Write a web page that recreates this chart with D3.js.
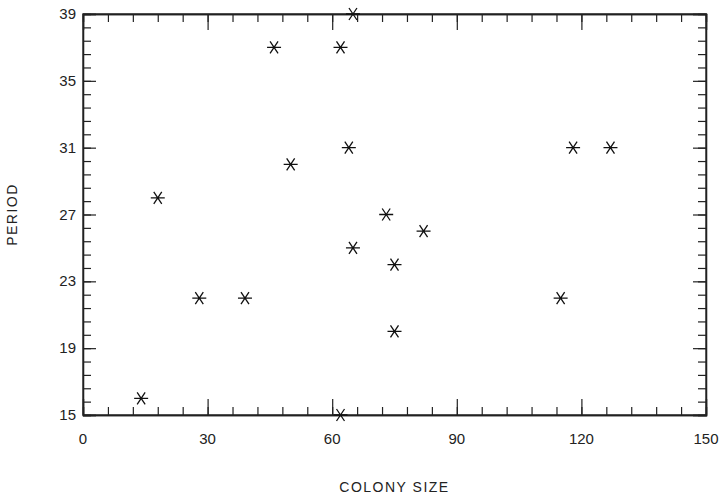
<!DOCTYPE html>
<html>
<head>
<meta charset="utf-8">
<script src="https://cdn.jsdelivr.net/npm/d3@7"></script>
<style>
  body { margin: 0; background: #fff; }
  text { font-family: "Liberation Sans", sans-serif; fill: #222; }
</style>
</head>
<body>
<svg id="chart" width="724" height="500"></svg>
<script>
// colony size vs period
const colonySize = [14, 18, 28, 39, 46, 50, 62, 65, 64, 65, 73, 82, 75, 75, 62, 118, 127, 115];
const period     = [16, 28, 22, 22, 37, 30, 37, 39, 31, 25, 27, 26, 24, 20, 15, 31, 31, 22];
const xMajorTicks = [0, 30, 60, 90, 120, 150];
const yMajorTicks = [15, 19, 23, 27, 31, 35, 39];

const svg = d3.select("#chart");
const margin = { left: 83, right: 18, top: 14, bottom: 85 };
const width = 724 - margin.left - margin.right;
const height = 500 - margin.top - margin.bottom;

const xScale = d3.scaleLinear().domain([0, 150]).range([0, width]);
const yScale = d3.scaleLinear().domain([15, 39]).range([height, 0]);

const g = svg.append("g").attr("transform", `translate(${margin.left},${margin.top})`);

// minor ticks: every 6 on x, every 0.8 on y
const xMinor = d3.range(0, 150.01, 6);
const yMinor = d3.range(0, 30).map(i => 15 + i * 0.8).filter(v => v <= 39.01);

function tickAxis(axisFn, scale, values, size) {
    return axisFn(scale).tickValues(values).tickSize(size).tickFormat("");
}

// inward ticks on all four sides
const sides = [
    { fn: d3.axisBottom, sc: xScale, tr: `translate(0,${height})`, minor: xMinor, major: xMajorTicks, ml: 16, mn: 8 },
    { fn: d3.axisTop, sc: xScale, tr: "translate(0,0)", minor: xMinor, major: xMajorTicks, ml: 16, mn: 8 },
    { fn: d3.axisLeft, sc: yScale, tr: "translate(0,0)", minor: yMinor, major: yMajorTicks, ml: 13, mn: 8 },
    { fn: d3.axisRight, sc: yScale, tr: `translate(${width},0)`, minor: yMinor, major: yMajorTicks, ml: 13, mn: 8 }
];

sides.forEach(s => {
    g.append("g").attr("transform", s.tr)
        .call(tickAxis(s.fn, s.sc, s.minor, -s.mn));
    g.append("g").attr("transform", s.tr)
        .call(tickAxis(s.fn, s.sc, s.major, -s.ml));
});

g.selectAll(".domain").attr("stroke", "#222").attr("stroke-width", 1.3);
g.selectAll(".tick line").attr("stroke", "#222").attr("stroke-width", 1.2);

// frame
g.append("rect")
    .attr("width", width).attr("height", height)
    .attr("fill", "none").attr("stroke", "#222").attr("stroke-width", 1.3);

// tick labels
g.selectAll(".xlab")
    .data(xMajorTicks)
    .enter().append("text")
    .attr("x", d => xScale(d))
    .attr("y", height + 29)
    .attr("text-anchor", "middle")
    .attr("font-size", 15)
    .text(d => d);

g.selectAll(".ylab")
    .data(yMajorTicks)
    .enter().append("text")
    .attr("x", -7)
    .attr("y", d => yScale(d) + 5)
    .attr("text-anchor", "end")
    .attr("font-size", 15)
    .text(d => d);

// axis titles
svg.append("text")
    .attr("x", margin.left + width / 2)
    .attr("y", 492)
    .attr("text-anchor", "middle")
    .attr("font-size", 14)
    .attr("letter-spacing", 1.5)
    .text("COLONY SIZE");

svg.append("text")
    .attr("transform", `translate(17,${margin.top + height / 2}) rotate(-90)`)
    .attr("text-anchor", "middle")
    .attr("font-size", 14)
    .attr("letter-spacing", 1.5)
    .text("PERIOD");

// asterisk markers
const star = "M-7,0L7,0M-4,-6L4,6M4,-6L-4,6";
g.selectAll(".pt")
    .data(colonySize.map((c, i) => ({ x: c, y: period[i] })))
    .enter().append("path")
    .attr("transform", d => `translate(${xScale(d.x)},${yScale(d.y)})`)
    .attr("d", star)
    .attr("fill", "none")
    .attr("stroke", "#111")
    .attr("stroke-width", 1.3);
</script>
</body>
</html>
